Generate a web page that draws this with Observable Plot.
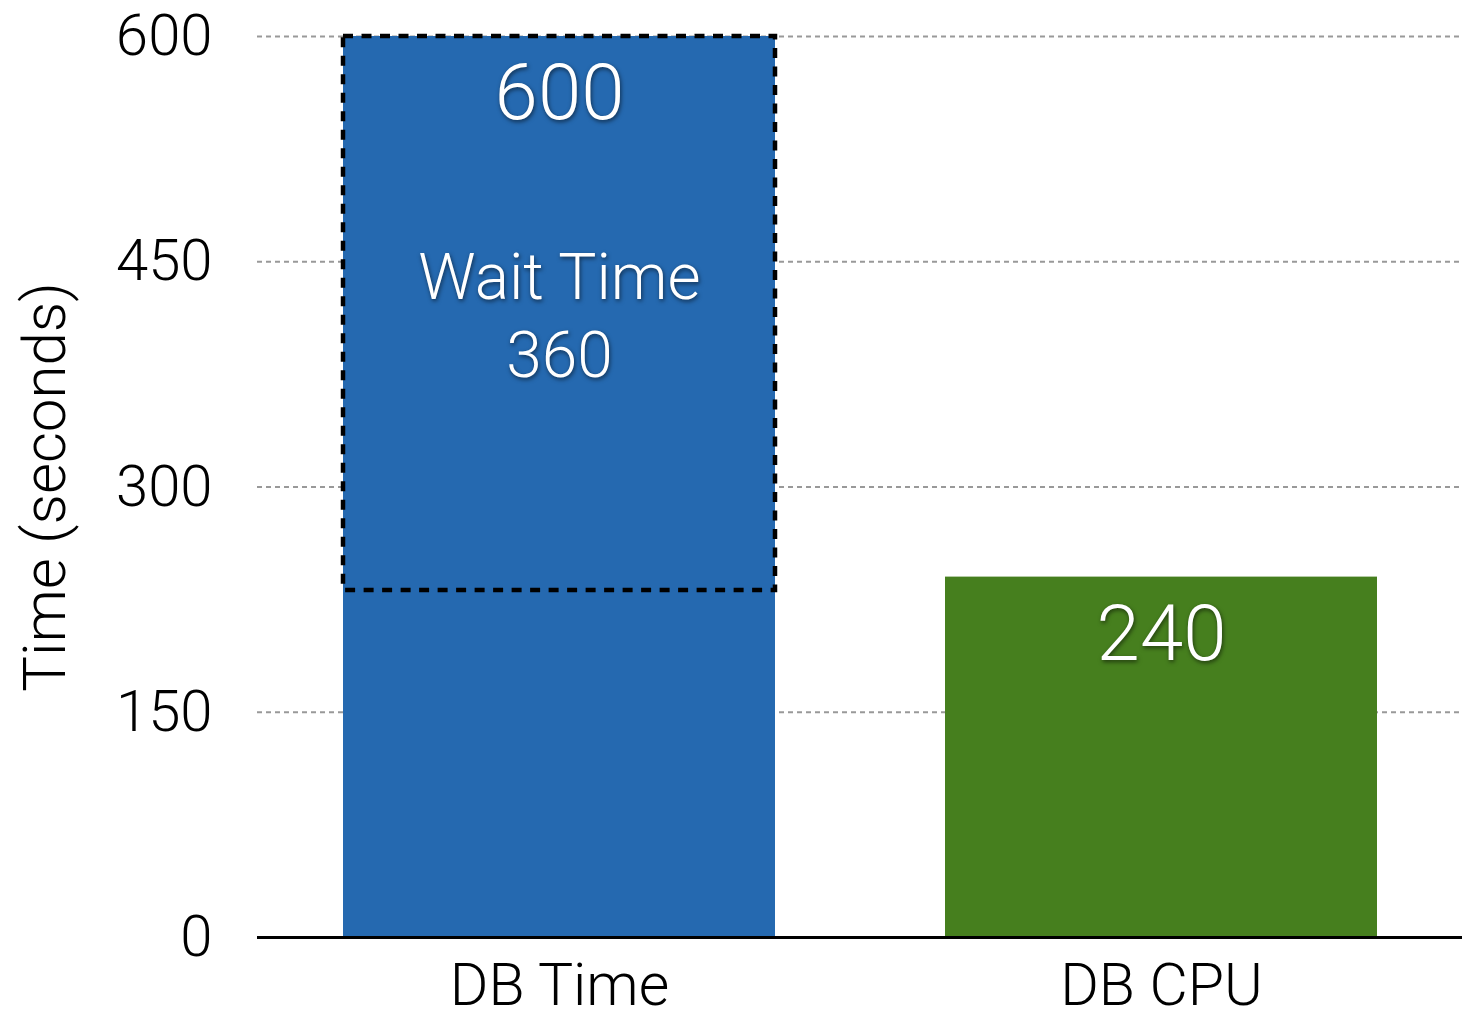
<!DOCTYPE html>
<html>
<head>
<meta charset="utf-8">
<script src="https://cdn.jsdelivr.net/npm/d3@7"></script>
<script src="https://cdn.jsdelivr.net/npm/@observablehq/plot@0.6"></script>
<style>
  html, body { margin: 0; padding: 0; background: #fff; }
  #chart svg { display: block; font-family: Roboto, "Liberation Sans", sans-serif; font-weight: 300; }
  .shadow text { filter: drop-shadow(1px 2px 2px rgba(0,0,0,0.55)); }
</style>
</head>
<body>
<div id="chart"></div>
<script>
// Data
const categories = ["DB Time", "DB CPU"];
const values = [600, 240];
const barColors = ["#2569B0", "#467F1E"];
const waitLabel = "Wait Time";
const waitValue = 360;
const waitBoxLow = 231;   // lower edge of dashed "wait" box
const waitBoxHigh = 600;
const yTicks = [0, 150, 300, 450, 600];
const yLabel = "Time (seconds)";

const bars = categories.map((c, i) => ({cat: c, value: values[i], color: barColors[i]}));
const waitBox = [{cat: categories[0], y1: waitBoxLow, y2: waitBoxHigh}];
const waitText = [
  {cat: categories[0], y: 439, text: waitLabel},
  {cat: categories[0], y: 387, text: String(waitValue)}
];
const topLabels = bars.map(d => ({cat: d.cat, y: d.value, text: String(d.value)}));

const plot = Plot.plot({
  width: 1473,
  height: 1023,
  marginLeft: 257,
  marginRight: 11,
  marginTop: 36,
  marginBottom: 86,
  x: {domain: categories, paddingInner: 0.283, paddingOuter: 0.141, label: null},
  y: {domain: [0, 600], label: null},
  style: {fontSize: "58px", color: "#000", background: "#fff"},
  marks: [
    Plot.ruleY(yTicks.filter(t => t > 0), {stroke: "#999", strokeWidth: 2, strokeDasharray: "5,4"}),
    Plot.barY(bars, {x: "cat", y: "value", fill: "color"}),
    Plot.barY(waitBox, {x: "cat", y1: "y1", y2: "y2", fill: "none", stroke: "#000", strokeWidth: 4.5, strokeDasharray: "10,8.5"}),
    Plot.ruleY([0], {stroke: "#000", strokeWidth: 3}),
    Plot.axisY({ticks: yTicks, tickSize: 0, tickPadding: 45, fontSize: 58, label: null}),
    Plot.axisX({tickSize: 0, tickPadding: 26, fontSize: 59, label: null}),
    Plot.text(topLabels, {x: "cat", y: "y", text: "text", dy: 58, fill: "white", fontSize: 78, className: "shadow"}),
    Plot.text(waitText, {x: "cat", y: "y", text: "text", fill: "white", fontSize: 64, className: "shadow"}),
    Plot.text([yLabel], {frameAnchor: "left", textAnchor: "middle", dx: -212, rotate: -90, text: d => d, fontSize: 60, fill: "#000"})
  ]
});
document.getElementById("chart").appendChild(plot);
</script>
</body>
</html>
